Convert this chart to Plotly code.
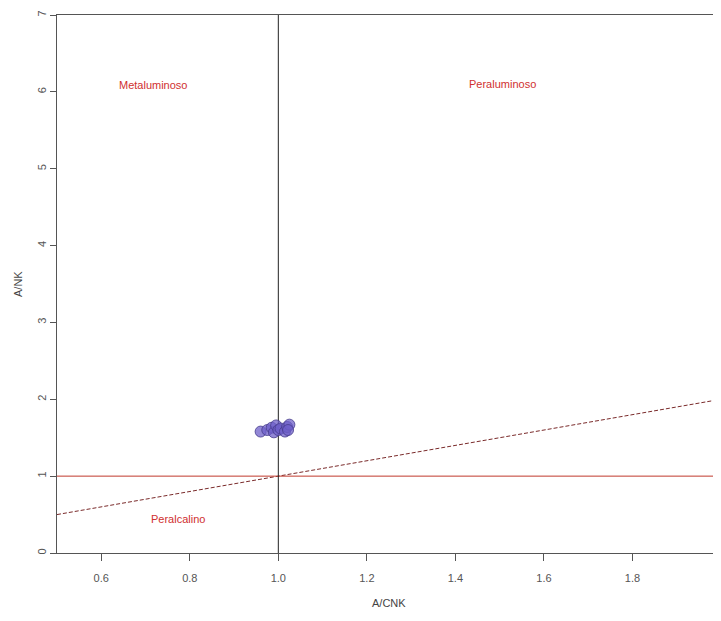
import plotly.graph_objects as go

# Data
acnk = [0.960, 0.975, 0.985, 0.990, 0.995, 1.000, 1.005, 1.015, 1.020, 1.025, 1.022]
anK = [1.58, 1.60, 1.63, 1.57, 1.66, 1.60, 1.62, 1.58, 1.64, 1.67, 1.60]

x_ticks = [0.6, 0.8, 1.0, 1.2, 1.4, 1.6, 1.8, 2.0]
x_ticklabels = ["0.6", "0.8", "1.0", "1.2", "1.4", "1.6", "1.8", "2.0"]
y_ticks = [0, 1, 2, 3, 4, 5, 6, 7]

field_labels = ["Metaluminoso", "Peraluminoso", "Peralcalino"]
field_x = [0.717, 1.507, 0.773]
field_y = [6.09, 6.10, 0.44]

FONT = "Liberation Sans Narrow, Arial Narrow, Liberation Sans"

fig = go.Figure()

# dashed 1:1 line
fig.add_trace(go.Scatter(x=[0.5, 2.0], y=[0.5, 2.0], mode="lines",
                         line=dict(color="#7a2a2a", width=1, dash="4px,2px"),
                         hoverinfo="skip", showlegend=False))
# horizontal red line at A/NK = 1
fig.add_trace(go.Scatter(x=[0.5, 2.0], y=[1, 1], mode="lines",
                         line=dict(color="#c0392b", width=1),
                         hoverinfo="skip", showlegend=False))
# vertical black line at A/CNK = 1
fig.add_trace(go.Scatter(x=[1, 1], y=[0, 7], mode="lines",
                         line=dict(color="#222222", width=1),
                         hoverinfo="skip", showlegend=False))
# samples
fig.add_trace(go.Scatter(x=acnk, y=anK, mode="markers",
                         marker=dict(size=11, color="rgba(110,95,200,0.75)",
                                     line=dict(color="rgba(70,60,140,0.8)", width=1)),
                         showlegend=False))

for t, xx, yy in zip(field_labels, field_x, field_y):
    fig.add_annotation(x=xx, y=yy, text=t, showarrow=False,
                       font=dict(family=FONT, size=11, color="#d03030"))

fig.add_annotation(xref="paper", yref="paper", x=0.506, y=-0.093, text="A/CNK", showarrow=False,
                   xanchor="center", yanchor="middle",
                   font=dict(family=FONT, size=11, color="#444444"))
fig.add_annotation(xref="paper", yref="paper", x=-0.0595, y=0.5, text="A/NK", showarrow=False,
                   textangle=-90, xanchor="center", yanchor="middle",
                   font=dict(family=FONT, size=11, color="#444444"))

# the visible frame ends just before x = 2.0 (the reference is cropped at the right)
fig.update_xaxes(range=[0.5, 1.982], tickvals=x_ticks, ticktext=x_ticklabels, automargin=False,
                 showgrid=False, zeroline=False, showline=True, linecolor="#555555", linewidth=1,
                 mirror=True, ticks="outside", ticklen=7, tickcolor="#555555",
                 ticklabelstandoff=8,
                 tickfont=dict(family=FONT, size=11, color="#555555"))
fig.update_yaxes(range=[0, 7], tickvals=y_ticks, tickangle=-90, automargin=False,
                 showgrid=False, zeroline=False, showline=True, linecolor="#555555", linewidth=1,
                 mirror=False, ticks="outside", ticklen=6, tickcolor="#555555",
                 tickfont=dict(family=FONT, size=11, color="#555555"))

fig.update_layout(width=705, height=604, margin=dict(l=49, r=0, t=7, b=59),
                  plot_bgcolor="white", paper_bgcolor="white", showlegend=False)

fig.write_html("out.html")
